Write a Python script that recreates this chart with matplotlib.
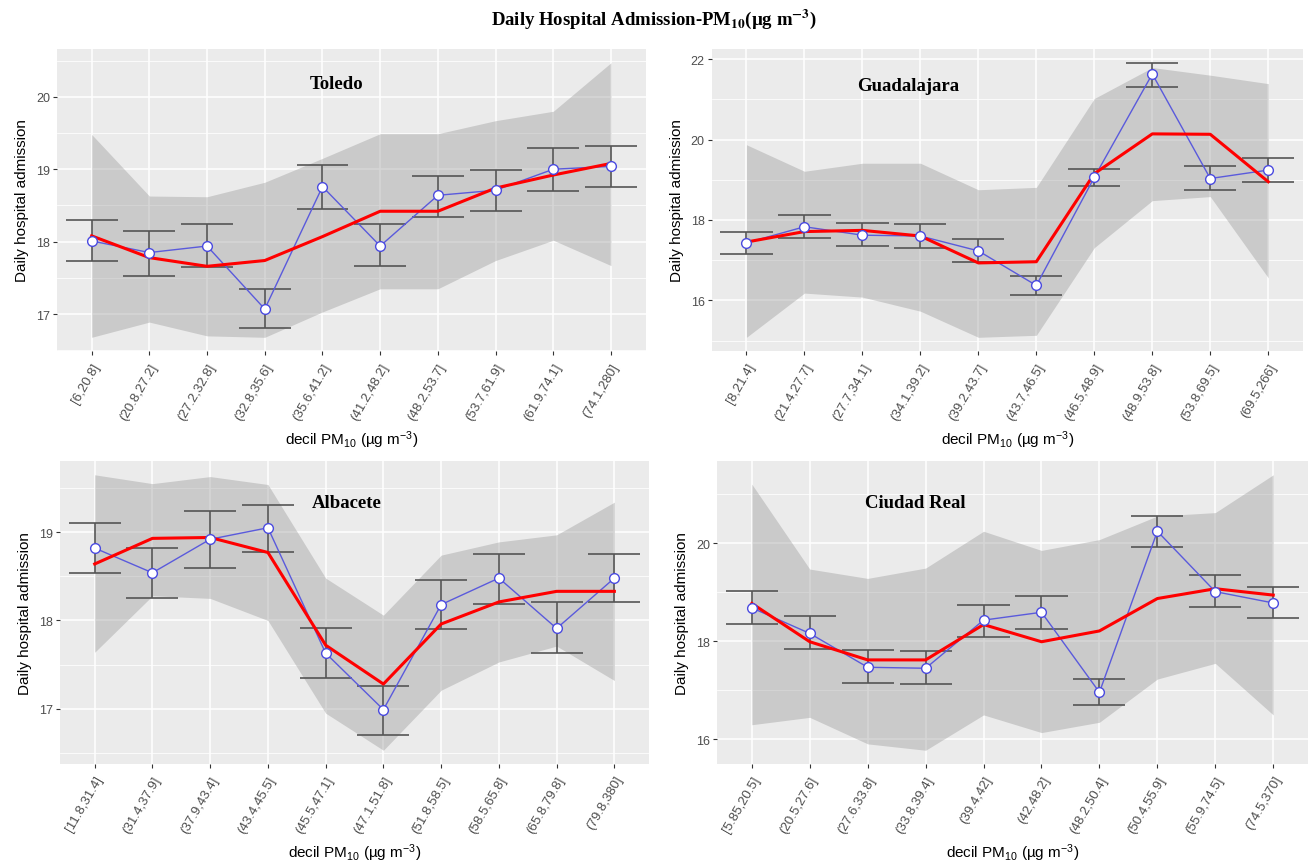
import matplotlib
matplotlib.use('Agg')
from matplotlib import pyplot as plt
from matplotlib.ticker import FixedLocator
import numpy as np

plt.rcParams['font.family'] = ['Liberation Sans', 'DejaVu Sans']
plt.rcParams['mathtext.fontset'] = 'custom'
plt.rcParams['mathtext.rm'] = 'Liberation Sans'
plt.rcParams['mathtext.it'] = 'Liberation Sans:italic'
plt.rcParams['mathtext.bf'] = 'Liberation Sans:bold'

# ---- data ----
toledo_bins = ['[6,20.8]', '(20.8,27.2]', '(27.2,32.8]', '(32.8,35.6]', '(35.6,41.2]',
               '(41.2,48.2]', '(48.2,53.7]', '(53.7,61.9]', '(61.9,74.1]', '(74.1,280]']
toledo_mean = [18.01, 17.85, 17.94, 17.07, 18.76, 17.94, 18.64, 18.71, 19.00, 19.04]
toledo_err_hi = [18.30, 18.15, 18.24, 17.34, 19.06, 18.24, 18.91, 18.99, 19.29, 19.32]
toledo_err_lo = [17.74, 17.53, 17.65, 16.81, 18.45, 17.67, 18.34, 18.43, 18.70, 18.76]
toledo_fit = [18.08, 17.78, 17.66, 17.74, 18.07, 18.42, 18.42, 18.74, 18.92, 19.08]
toledo_band_hi = [19.48, 18.63, 18.62, 18.82, 19.15, 19.49, 19.49, 19.67, 19.80, 20.47]
toledo_band_lo = [16.68, 16.89, 16.70, 16.68, 17.03, 17.35, 17.35, 17.74, 18.02, 17.67]

guada_bins = ['[8,21.4]', '(21.4,27.7]', '(27.7,34.1]', '(34.1,39.2]', '(39.2,43.7]',
              '(43.7,46.5]', '(46.5,48.9]', '(48.9,53.8]', '(53.8,69.5]', '(69.5,266]']
guada_mean = [17.43, 17.83, 17.62, 17.60, 17.23, 16.37, 19.06, 21.63, 19.03, 19.24]
guada_err_hi = [17.70, 18.13, 17.92, 17.89, 17.52, 16.60, 19.27, 21.91, 19.35, 19.54]
guada_err_lo = [17.14, 17.54, 17.34, 17.30, 16.95, 16.13, 18.85, 21.31, 18.74, 18.95]
guada_fit = [17.45, 17.71, 17.74, 17.60, 16.93, 16.96, 19.15, 20.14, 20.13, 18.95]
guada_band_hi = [19.87, 19.21, 19.41, 19.41, 18.75, 18.81, 21.02, 21.79, 21.60, 21.39]
guada_band_lo = [15.08, 16.18, 16.08, 15.73, 15.08, 15.13, 17.31, 18.48, 18.58, 16.56]

alba_bins = ['[11.8,31.4]', '(31.4,37.9]', '(37.9,43.4]', '(43.4,45.5]', '(45.5,47.1]',
             '(47.1,51.8]', '(51.8,58.5]', '(58.5,65.8]', '(65.8,79.8]', '(79.8,380]']
alba_mean = [18.82, 18.54, 18.92, 19.05, 17.63, 16.99, 18.18, 18.48, 17.91, 18.48]
alba_err_hi = [19.10, 18.82, 19.24, 19.31, 17.91, 17.26, 18.46, 18.75, 18.21, 18.75]
alba_err_lo = [18.54, 18.26, 18.59, 18.77, 17.35, 16.70, 17.90, 18.19, 17.63, 18.21]
alba_fit = [18.64, 18.93, 18.94, 18.77, 17.72, 17.28, 17.96, 18.21, 18.33, 18.33]
alba_band_hi = [19.65, 19.55, 19.63, 19.54, 18.48, 18.06, 18.74, 18.89, 18.97, 19.34]
alba_band_lo = [17.64, 18.28, 18.25, 18.00, 16.95, 16.53, 17.21, 17.53, 17.71, 17.32]

creal_bins = ['[5.85,20.5]', '(20.5,27.6]', '(27.6,33.8]', '(33.8,39.4]', '(39.4,42]',
              '(42,48.2]', '(48.2,50.4]', '(50.4,55.9]', '(55.9,74.5]', '(74.5,370]']
creal_mean = [18.68, 18.16, 17.47, 17.45, 18.43, 18.59, 16.96, 20.24, 19.01, 18.78]
creal_err_hi = [19.02, 18.51, 17.82, 17.80, 18.74, 18.93, 17.23, 20.56, 19.34, 19.11]
creal_err_lo = [18.36, 17.84, 17.15, 17.13, 18.09, 18.24, 16.71, 19.92, 18.70, 18.48]
creal_fit = [18.77, 17.99, 17.62, 17.62, 18.34, 17.99, 18.21, 18.87, 19.07, 18.94]
creal_band_hi = [21.20, 19.47, 19.28, 19.49, 20.24, 19.85, 20.07, 20.55, 20.62, 21.39]
creal_band_lo = [16.30, 16.45, 15.91, 15.78, 16.50, 16.14, 16.35, 17.23, 17.55, 16.50]

panels = [
    ('Toledo', toledo_bins, toledo_mean, toledo_err_lo, toledo_err_hi, toledo_fit,
     toledo_band_lo, toledo_band_hi, [17, 18, 19, 20], (5.25, 20.18)),
    ('Guadalajara', guada_bins, guada_mean, guada_err_lo, guada_err_hi, guada_fit,
     guada_band_lo, guada_band_hi, [16, 18, 20, 22], (3.79, 21.35)),
    ('Albacete', alba_bins, alba_mean, alba_err_lo, alba_err_hi, alba_fit,
     alba_band_lo, alba_band_hi, [17, 18, 19], (5.37, 19.34)),
    ('Ciudad Real', creal_bins, creal_mean, creal_err_lo, creal_err_hi, creal_fit,
     creal_band_lo, creal_band_hi, [16, 18, 20], (3.83, 20.82)),
]

# axes boxes in figure fraction [left, bottom, width, height]
boxes = [
    [0.0436, 0.5916, 0.4500, 0.3504],
    [0.5441, 0.5916, 0.4521, 0.3504],
    [0.0459, 0.1125, 0.4503, 0.3515],
    [0.5482, 0.1125, 0.4518, 0.3515],
]

fig = plt.figure(figsize=(13.08, 8.62), dpi=100)
fig.text(0.5, 0.978,
         r'Daily Hospital Admission-PM$_{\mathbf{10}}$(µg m$^{\mathbf{-3}}$)',
         ha='center', va='center', fontsize=13.5, fontweight='bold',
         family='Liberation Serif', math_fontfamily='stix')

for box, (city, bins, mean, elo, ehi, fit, blo, bhi, yticks, lab) in zip(boxes, panels):
    ax = fig.add_axes(box)
    x = np.arange(1, len(bins) + 1)
    ax.set_facecolor('#EBEBEB')
    for s in ax.spines.values():
        s.set_visible(False)

    ax.fill_between(x, blo, bhi, color='#999999', alpha=0.4, linewidth=0, zorder=2)
    ax.vlines(x, elo, ehi, color='#555555', linewidth=1.2, zorder=3)
    ax.hlines(elo, x - 0.45, x + 0.45, color='#555555', linewidth=1.2, zorder=3)
    ax.hlines(ehi, x - 0.45, x + 0.45, color='#555555', linewidth=1.2, zorder=3)
    ax.plot(x, mean, '-', color='#5A5ADC', linewidth=1.0, zorder=4)
    ax.plot(x, fit, '-', color='red', linewidth=2.2, zorder=5)
    ax.plot(x, mean, 'o', markerfacecolor='white', markeredgecolor='#4A4AE0',
            markersize=7, markeredgewidth=1.0, zorder=6)

    ax.margins(y=0.05)
    ax.set_xlim(0.4, len(bins) + 0.6)
    ax.set_xticks(x)
    ax.set_xticklabels(bins, rotation=60, ha='right', va='top', rotation_mode='anchor',
                       fontsize=9.5, color='#4D4D4D')
    ax.set_yticks(yticks)
    ax.set_yticklabels([str(t) for t in yticks], fontsize=9, color='#4D4D4D')
    step = yticks[1] - yticks[0]
    lo, hi = ax.get_ylim()
    minor = [t for t in np.arange(yticks[0] - step / 2, yticks[-1] + step, step) if lo < t < hi]
    ax.yaxis.set_minor_locator(FixedLocator(minor))
    ax.tick_params(axis='both', which='major', length=3, width=0.8, color='#333333', pad=2)
    ax.tick_params(axis='x', which='major', pad=4)
    ax.tick_params(axis='y', which='minor', length=0)
    ax.grid(True, which='major', color='white', linewidth=1.1, zorder=1)
    ax.grid(True, which='minor', axis='y', color='white', linewidth=0.55, zorder=1)
    ax.set_axisbelow(True)

    ax.set_ylabel('Daily hospital admission', fontsize=11, labelpad=5)
    ax.set_xlabel(r'decil PM$_{10}$ (µg m$^{-3}$)', fontsize=11, labelpad=5)
    ax.text(lab[0], lab[1], city, ha='center', va='center', fontsize=13.5,
            fontweight='bold', family='Liberation Serif', zorder=7)

plt.savefig('out.png', dpi=100)
